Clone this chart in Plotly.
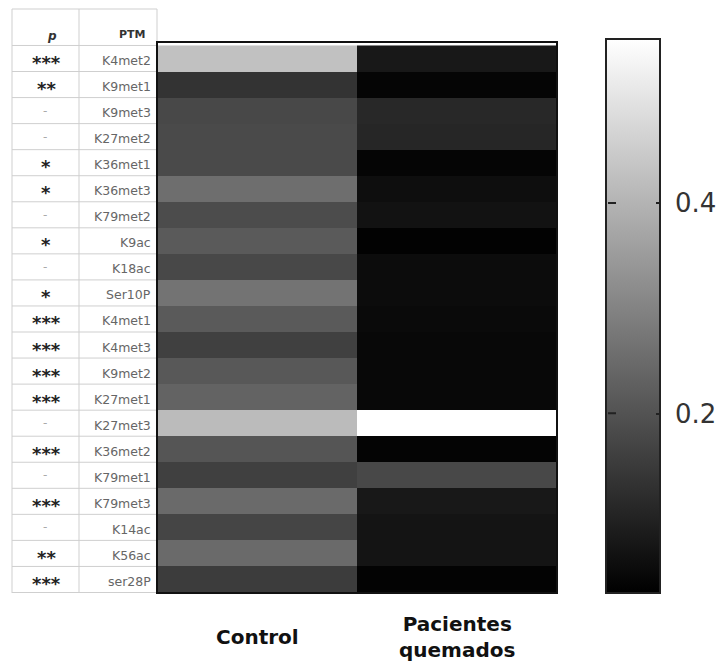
import plotly.graph_objects as go

ptm = ["K4met2", "K9met1", "K9met3", "K27met2", "K36met1", "K36met3", "K79met2",
       "K9ac", "K18ac", "Ser10P", "K4met1", "K4met3", "K9met2", "K27met1",
       "K27met3", "K36met2", "K79met1", "K79met3", "K14ac", "K56ac", "ser28P"]
pval = ["***", "**", "-", "-", "*", "*", "-", "*", "-", "*", "***", "***", "***",
        "***", "-", "***", "-", "***", "-", "**", "***"]
groups = ["Control", "Pacientes quemados"]
group_labels = ["Control", "Pacientes<br>quemados"]
control = [0.427, 0.135, 0.179, 0.183, 0.183, 0.257, 0.187, 0.216, 0.179, 0.266,
           0.216, 0.162, 0.212, 0.233, 0.416, 0.206, 0.162, 0.249, 0.173, 0.249, 0.154]
pacientes = [0.080, 0.040, 0.113, 0.109, 0.040, 0.059, 0.067, 0.034, 0.055, 0.055,
             0.051, 0.047, 0.047, 0.047, 0.555, 0.038, 0.179, 0.080, 0.071, 0.071, 0.036]
cbar_ticks = [0.2, 0.4]
zmin, zmax = 0.03, 0.555

W, H = 727, 669
def px(x): return x / W
def py(y): return 1 - y / H

CB_TOP, CB_BOT, CB_LEFT, CB_RIGHT = 39, 593, 607, 663

z = [[c, p] for c, p in zip(control, pacientes)]

fig = go.Figure(go.Heatmap(
    z=z, x=groups, y=ptm,
    colorscale=[[0, "#000000"], [1, "#ffffff"]],
    zmin=zmin, zmax=zmax,
    colorbar=dict(
        x=px(CB_LEFT - 1), xanchor="left", y=py((CB_TOP + CB_BOT) / 2), yanchor="middle",
        len=(CB_BOT - CB_TOP) / H, lenmode="fraction", thickness=CB_RIGHT - CB_LEFT - 2,
        outlinewidth=2, outlinecolor="#222",
        tickvals=cbar_ticks, ticktext=["\u00a0" + str(t) for t in cbar_ticks],
        ticks="inside", ticklen=5, tickwidth=2, tickcolor="#222",
        tickfont=dict(size=26, color="#333", family="DejaVu Sans"),
        xpad=0, ypad=0,
    ),
    showscale=True,
))

fig.update_layout(
    width=W, height=H, margin=dict(l=0, r=0, t=0, b=0),
    paper_bgcolor="white", plot_bgcolor="white",
    xaxis=dict(domain=[px(157), px(557)], showticklabels=False, showgrid=False,
               zeroline=False, ticks=""),
    yaxis=dict(domain=[py(593), py(42)], showticklabels=False, showgrid=False,
               zeroline=False, ticks="", autorange="reversed"),
    font=dict(family="DejaVu Sans"),
)

shapes = []
ann = []
grid = "#cfcfcf"
n = len(ptm)
# table grid lines
for i in range(n + 1):
    shapes.append(dict(type="line", xref="paper", yref="y", x0=px(12), x1=px(157),
                       y0=i - 0.5, y1=i - 0.5, line=dict(color=grid, width=1)))
shapes.append(dict(type="line", xref="paper", yref="paper", x0=px(12), x1=px(157),
                   y0=py(9), y1=py(9), line=dict(color=grid, width=1)))
for xx in [12, 79, 157]:
    shapes.append(dict(type="line", xref="paper", yref="paper", x0=px(xx), x1=px(xx),
                       y0=py(9), y1=py(593), line=dict(color=grid, width=1)))
# heatmap border
shapes.append(dict(type="rect", xref="paper", yref="paper", x0=px(157), x1=px(557),
                   y0=py(593), y1=py(42), line=dict(color="#111", width=2)))
# colorbar tick marks on the left inner edge (short arrows above the colorbar)
for t in cbar_ticks:
    yy = py(CB_BOT - 1) + (t - zmin) / (zmax - zmin) * ((CB_BOT - CB_TOP - 2) / H)
    ann.append(dict(text=" ", x=px(CB_LEFT + 1), y=yy, xref="paper", yref="paper",
                    showarrow=True, arrowhead=0, arrowwidth=2, arrowcolor="#222",
                    ax=9, ay=0, standoff=0, startstandoff=0, borderpad=0,
                    font=dict(size=2)))

# header
ann.append(dict(text="<b><i>p</i></b>", x=px(45), y=py(27), xref="paper", yref="paper",
                showarrow=False, font=dict(size=12, color="#333")))
ann.append(dict(text="<b>PTM</b>", x=px(117), y=py(26), xref="paper", yref="paper",
                showarrow=False, font=dict(size=11, color="#333")))
for name, p in zip(ptm, pval):
    ann.append(dict(text=name, x=px(153), y=name, xref="paper", yref="y",
                    xanchor="right", yanchor="middle", yshift=-2, showarrow=False,
                    font=dict(size=12.5, color="#666")))
    if p == "-":
        ann.append(dict(text=p, x=px(45), y=name, xref="paper", yref="y",
                        xanchor="center", yanchor="middle", showarrow=False,
                        font=dict(size=12, color="#aaaaaa")))
    else:
        ann.append(dict(text="<b>" + p + "</b>", x=px(46), y=name, xref="paper", yref="y",
                        xanchor="center", yanchor="middle", yshift=-4, showarrow=False,
                        font=dict(size=18, color="#222")))
# column labels
for g, lab in zip(groups, group_labels):
    ann.append(dict(text="<b>" + lab + "</b>", x=g, y=py(637), xref="x", yref="paper",
                    xanchor="center", yanchor="middle", showarrow=False,
                    font=dict(size=20, color="#111")))

fig.update_layout(shapes=shapes, annotations=ann)
fig.write_html("out.html")
